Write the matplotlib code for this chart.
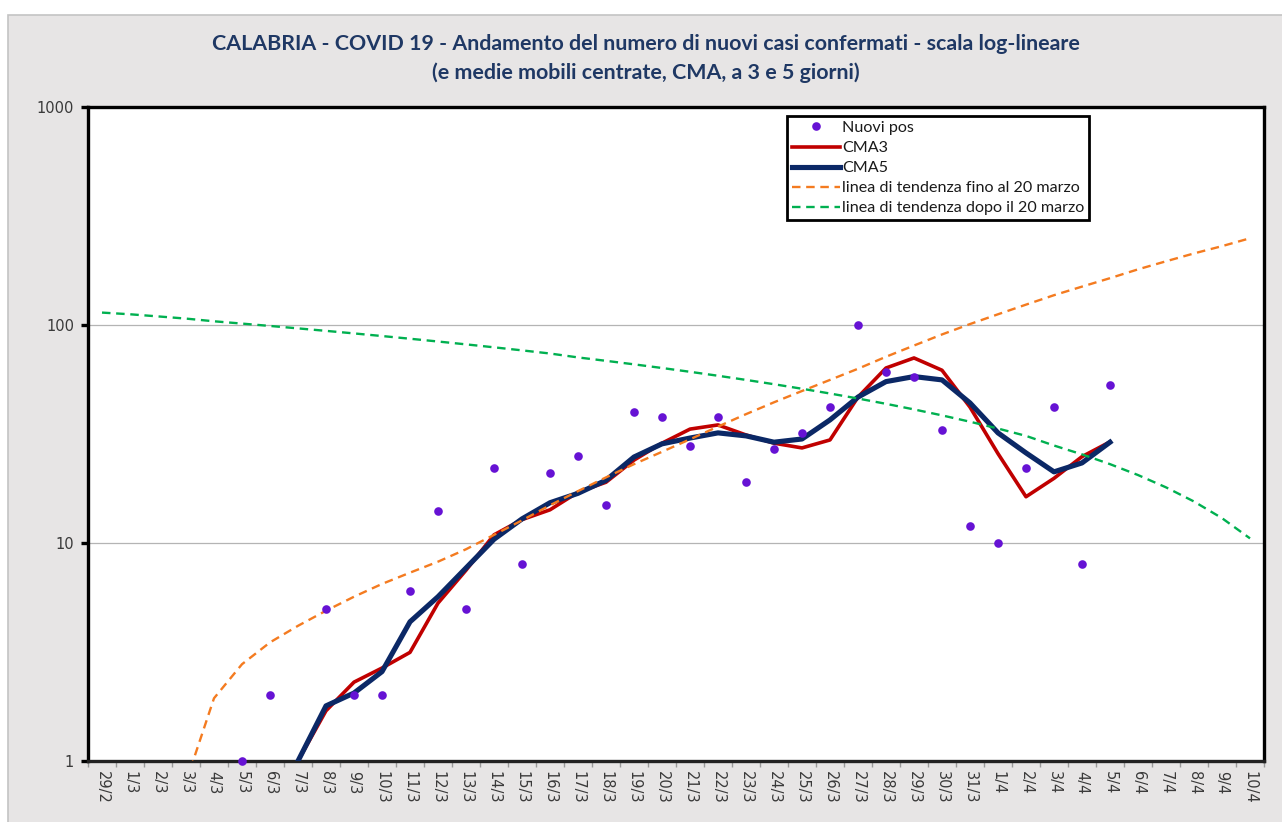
"""Calabria COVID-19: nuovi casi confermati, scala log-lineare."""
import numpy as np
import matplotlib
matplotlib.use("Agg")
import matplotlib.pyplot as plt
import matplotlib.ticker as mticker
from matplotlib.patches import Rectangle

# ── Palette ───────────────────────────────────────────────────────────────────
PANEL_BG   = "#e7e5e5"
PANEL_EDGE = "#c4c4c4"
TITLE_CLR  = "#1f3864"
DOT        = "#6612d4"
RED        = "#c00000"
NAVY       = "#0b2866"
ORANGE     = "#f47b20"
GREEN      = "#00b050"
GRID_CLR   = "#b4b4b4"
TEXT_CLR   = "#3a3a3a"
TITLE_FONT = ["Lato", "DejaVu Sans"]

nan = float("nan")

# ── Data ──────────────────────────────────────────────────────────────────────
DAYS = [
    "29/2", "1/3", "2/3", "3/3", "4/3", "5/3", "6/3", "7/3", "8/3", "9/3",
    "10/3", "11/3", "12/3", "13/3", "14/3", "15/3", "16/3", "17/3", "18/3", "19/3",
    "20/3", "21/3", "22/3", "23/3", "24/3", "25/3", "26/3", "27/3", "28/3", "29/3",
    "30/3", "31/3", "1/4", "2/4", "3/4", "4/4", "5/4", "6/4", "7/4", "8/4",
    "9/4", "10/4",
]

NUOVI_POS = [
    nan, nan, nan, nan, nan, 1, 2, nan, 5, 2,
    2, 6, 14, 5, 22, 8, 21, 25, 15, 40,
    38, 28, 38, 19, 27, 32, 42, 100, 61, 58,
    33, 12, 10, 22, 42, 8, 53, nan, nan, nan,
    nan, nan,
]

CMA3 = [
    nan, nan, nan, nan, nan, nan, nan, 1.0, 1.7, 2.3,
    2.67, 3.15, 5.3, 7.5, 10.9, 12.8, 14.2, 17.1, 19.0, 24.0,
    28.7, 33.3, 34.8, 31.3, 28.7, 27.3, 29.7, 46.7, 63.5, 70.6,
    62.0, 42.0, 25.7, 16.3, 19.8, 24.9, 29.1, nan, nan, nan,
    nan, nan,
]

CMA5 = [
    nan, nan, nan, nan, nan, nan, nan, 1.0, 1.79, 2.05,
    2.57, 4.35, 5.67, 7.68, 10.4, 12.9, 15.3, 16.9, 19.4, 24.8,
    28.5, 30.3, 32.0, 31.0, 29.0, 30.0, 36.7, 46.7, 55.0, 58.0,
    56.0, 43.9, 32.0, 25.9, 21.2, 23.3, 29.0, nan, nan, nan,
    nan, nan,
]

TREND_FINO_20 = [
    nan, nan, nan, 0.8, 1.94, 2.78, 3.5, 4.17, 4.89, 5.67,
    6.49, 7.31, 8.21, 9.36, 10.9, 12.7, 14.9, 17.3, 20.0, 23.0,
    26.2, 29.9, 34.2, 39.0, 44.2, 49.8, 56.0, 63.0, 71.5, 80.5,
    90.5, 101, 112, 124, 137, 150, 164, 180, 196, 213,
    230, 250,
]

TREND_DOPO_20 = [
    114, 112, 109.5, 107, 104, 101.5, 99, 96.5, 94, 91.5,
    89, 86.5, 84, 81.5, 79, 76.5, 74, 71, 68.5, 66,
    63.5, 61, 58.5, 56, 53.5, 51, 48.5, 46, 43.5, 41,
    38.5, 36, 33.5, 31, 28, 25.5, 23, 20.5, 18, 15.5,
    13, 10.5,
]

# ── Figure ────────────────────────────────────────────────────────────────────
fig = plt.figure(figsize=(12.82, 8.22), dpi=100)
fig.patch.set_facecolor("white")
fig.patches.append(Rectangle(
    (8 / 1282, -0.01), 1.0, 1 - 15 / 822 + 0.01, transform=fig.transFigure,
    facecolor=PANEL_BG, edgecolor=PANEL_EDGE, linewidth=1.2, zorder=-10,
))

ax = fig.add_axes([88 / 1282, 61 / 822, 1176 / 1282, 654 / 822])
ax.set_facecolor("white")

x = np.arange(len(DAYS))

ax.plot(x, CMA3, color=RED, linewidth=2.6, label="CMA3", zorder=3)
ax.plot(x, CMA5, color=NAVY, linewidth=3.7, label="CMA5", zorder=4)
ax.plot(x, TREND_FINO_20, color=ORANGE, linewidth=1.7, linestyle=(0, (3.6, 2.4)),
        label="linea di tendenza fino al 20 marzo", zorder=5)
ax.plot(x, TREND_DOPO_20, color=GREEN, linewidth=1.7, linestyle=(0, (3.6, 2.4)),
        label="linea di tendenza dopo il 20 marzo", zorder=5)
ax.plot(x, NUOVI_POS, linestyle="none", marker="o", markersize=6.2,
        color=DOT, markeredgewidth=0, label="Nuovi pos", zorder=6, clip_on=False)

# ── Axes ──────────────────────────────────────────────────────────────────────
ax.set_yscale("log")
ax.set_ylim(1, 1000)
ax.set_xlim(-0.5, len(DAYS) - 0.5)
ax.yaxis.set_major_locator(mticker.FixedLocator([1, 10, 100, 1000]))
ax.yaxis.set_major_formatter(mticker.FuncFormatter(lambda v, _: f"{v:.0f}"))
ax.yaxis.set_minor_locator(mticker.NullLocator())
ax.yaxis.grid(True, which="major", color=GRID_CLR, linewidth=0.9, zorder=0)
ax.set_axisbelow(True)

ax.set_xticks(x)
ax.set_xticklabels(DAYS, rotation=270)
ax.set_xticks(np.arange(len(DAYS) + 1) - 0.5, minor=True)
ax.tick_params(axis="x", which="major", length=0, pad=7, labelsize=10.5, labelcolor=TEXT_CLR)
ax.tick_params(axis="x", which="minor", length=4, width=1, color="#9a9a9a", direction="out")
ax.tick_params(axis="y", which="major", length=5, width=2.4, color="black",
               direction="out", pad=5, labelsize=10.5, labelcolor=TEXT_CLR)

for side in ["left", "top", "right", "bottom"]:
    ax.spines[side].set_color("black")
    ax.spines[side].set_linewidth(2.4)
ax.spines["bottom"].set_color("#222222")

# ── Legend ────────────────────────────────────────────────────────────────────
handles, labels = ax.get_legend_handles_labels()
order = [4, 0, 1, 2, 3]
leg = ax.legend(
    [handles[i] for i in order], [labels[i] for i in order],
    loc="upper left", bbox_to_anchor=((787 - 88) / 1176, (761 - 116) / 654),
    borderaxespad=0, frameon=True, fancybox=False, framealpha=1,
    handlelength=3.0, handletextpad=0.1, labelspacing=0.36, borderpad=0.3,
    prop={"family": TITLE_FONT, "size": 11.6},
)
leg.get_frame().set_edgecolor("black")
leg.get_frame().set_linewidth(2.0)
for t in leg.get_texts():
    t.set_color("#1a1a1a")

# ── Title ─────────────────────────────────────────────────────────────────────
fig.text(646 / 1282, 1 - 44 / 822,
         "CALABRIA - COVID 19 - Andamento del numero di nuovi casi confermati - scala log-lineare",
         ha="center", va="center", fontsize=15.4, fontweight="bold",
         color=TITLE_CLR, family=TITLE_FONT)
fig.text(646 / 1282, 1 - 73 / 822,
         "(e medie mobili centrate, CMA, a 3 e 5 giorni)",
         ha="center", va="center", fontsize=15.4, fontweight="bold",
         color=TITLE_CLR, family=TITLE_FONT)

fig.savefig("out.png", dpi=100, facecolor=fig.get_facecolor())
